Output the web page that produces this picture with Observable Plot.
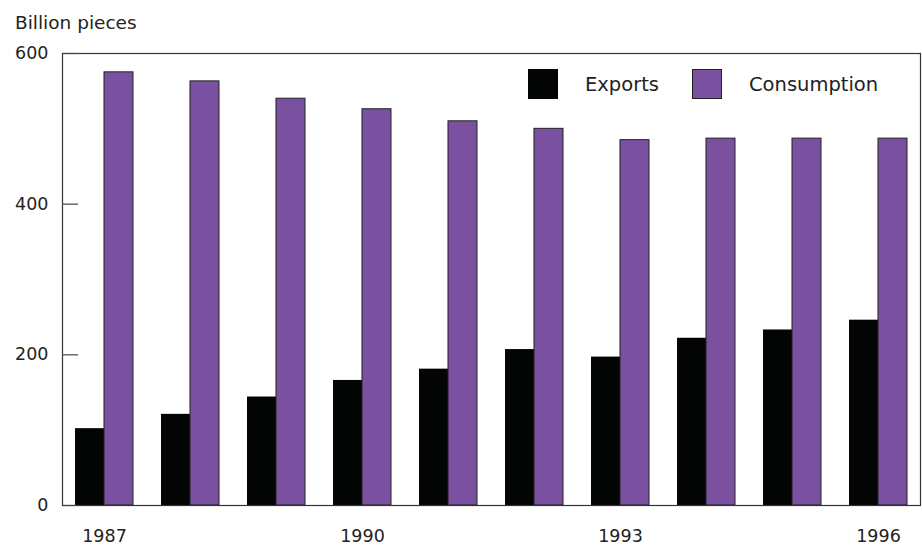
<!DOCTYPE html>
<html>
<head>
<meta charset="utf-8">
<script src="https://cdn.jsdelivr.net/npm/d3@7"></script>
<script src="https://cdn.jsdelivr.net/npm/@observablehq/plot@0.6"></script>
<style>
  html, body { margin: 0; padding: 0; background: #fff; }
  #wrap { position: relative; width: 922px; height: 545px; font-family: "DejaVu Sans", sans-serif; color: #222; }
  #title { height: 40px; font-size: 18.5px; padding-left: 15px; padding-top: 2px; line-height: 42px; box-sizing: border-box; }
  .lg { position: absolute; }
  .sw { top: 69px; width: 30px; height: 30px; box-sizing: border-box; }
  .lt { top: 73px; font-size: 19.5px; line-height: 24px; }
  svg { display: block; }
</style>
</head>
<body>
<div id="wrap">
  <div id="title">Billion pieces</div>
  <div class="lg sw" style="left:528px;background:#030505"></div>
  <div class="lg lt" style="left:585px">Exports</div>
  <div class="lg sw" style="left:692px;background:#7a50a0;border:1px solid #222"></div>
  <div class="lg lt" style="left:749px">Consumption</div>
  <div id="chart"></div>
</div>
<script>
const years = [1987, 1988, 1989, 1990, 1991, 1992, 1993, 1994, 1995, 1996];
const exportsVals = [102, 121, 144, 166, 181, 207, 197, 222, 233, 246];
const consumptionVals = [575, 563, 540, 526, 510, 500, 485, 487, 487, 487];
const yTicks = [0, 200, 400, 600];
const xLabels = [1987, 1990, 1993, 1996];

const exportsData = years.map((y, i) => ({year: y, value: exportsVals[i]}));
const consData = years.map((y, i) => ({year: y, value: consumptionVals[i]}));

const W = 922, H = 505;
const mL = 62, mR = 2, mT = 13, mB = 40;
const padInner = 0.326, padOuter = 0.15;
const step = (W - mL - mR) / (years.length - padInner + 2 * padOuter);
const half = step * (1 - padInner) / 2;

const plot = Plot.plot({
  width: W,
  height: H,
  marginLeft: mL,
  marginRight: mR,
  marginTop: mT,
  marginBottom: mB,
  style: {fontFamily: "'DejaVu Sans', sans-serif", fontSize: "17.5px", color: "#222", background: "#fff"},
  x: {type: "band", domain: years, paddingInner: padInner, paddingOuter: padOuter},
  y: {domain: [0, 600]},
  marks: [
    Plot.barY(exportsData, {x: "year", y: "value", fill: "#030505", insetRight: half}),
    Plot.barY(consData, {x: "year", y: "value", fill: "#7a50a0", stroke: "#222", strokeWidth: 1, insetLeft: half}),
    Plot.frame({stroke: "#333", strokeWidth: 1.2}),
    Plot.axisY({ticks: yTicks, tickSize: -16, tickPadding: 30, label: null, stroke: "#444", strokeWidth: 1.2, fill: "#222", tickFormat: d => String(d)}),
    Plot.axisX({ticks: xLabels, tickSize: 0, tickPadding: 24, label: null, fill: "#222", tickFormat: d => String(d)})
  ]
});
document.getElementById("chart").appendChild(plot);
</script>
</body>
</html>
